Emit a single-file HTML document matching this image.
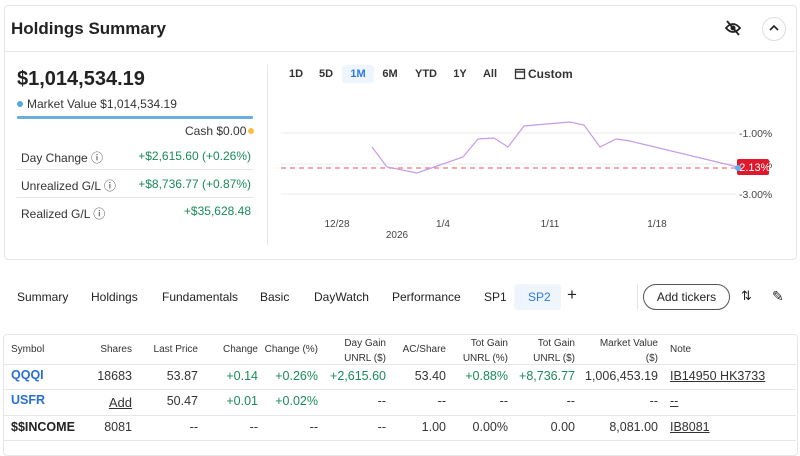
<!DOCTYPE html><html><head><style>
body{margin:0;width:800px;height:445px;background:#fff;font-family:"Liberation Sans",sans-serif;color:#222;position:relative;overflow:hidden}
.a{position:absolute;white-space:nowrap}
.r{text-align:right}
.card{position:absolute;left:4px;top:5px;width:791px;height:253px;border:1px solid #e6e6e6;border-radius:4px}
.tb{position:absolute;left:3px;top:334px;width:793px;height:120px;border:1px solid #e6e6e6;border-radius:4px}
.hl{position:absolute;height:1px;background:#e6e6e6}
.th{font-size:10px;color:#333}
.td{font-size:12.5px;color:#333}
.g{color:#1a8a5a}
.tbn{position:absolute;top:68px;font-size:11px;font-weight:bold;color:#333;transform:translateX(-50%)}
</style></head><body>
<div class="card"></div>
<div class="a" style="left:11px;top:19px;font-size:17px;font-weight:bold;color:#222">Holdings Summary</div>
<div class="hl" style="left:5px;top:51px;width:790px"></div>
<svg class="a" style="left:724px;top:20px" width="18" height="16"><path d="M2 8 Q9 0 16 8 Q9 16 2 8Z" fill="none" stroke="#222" stroke-width="1.8"/><circle cx="9" cy="8" r="2.5" fill="#222"/><line x1="3" y1="1" x2="15" y2="15" stroke="#222" stroke-width="1.8"/></svg>
<div class="a" style="left:762px;top:17px;width:22px;height:22px;border:1px solid #ddd;border-radius:50%"></div>
<svg class="a" style="left:768px;top:23px" width="12" height="10"><path d="M2 7 L6 3 L10 7" fill="none" stroke="#222" stroke-width="1.6"/></svg>
<div class="a" style="left:17px;top:68px;font-size:20px;font-weight:bold;color:#222">$1,014,534.19</div>
<div class="a" style="left:17px;top:101px;width:6px;height:6px;border-radius:50%;background:#58a6e0"></div>
<div class="a" style="left:27px;top:97px;font-size:12px;color:#333">Market Value $1,014,534.19</div>
<div class="a" style="left:17px;top:116px;width:236px;height:3px;background:#6aaee0;border-radius:1px"></div>
<div class="a" style="left:185px;top:124px;font-size:12px;color:#333">Cash $0.00</div>
<div class="a" style="left:248px;top:128px;width:6px;height:6px;border-radius:50%;background:#f5c04a"></div>
<div class="a" style="left:21px;top:149px;font-size:12px;color:#333">Day Change ⓘ</div>
<div class="a g" style="right:549px;top:149px;font-size:12px">+$2,615.60 (+0.26%)</div>
<div class="hl" style="left:17px;top:169px;width:237px"></div>
<div class="a" style="left:21px;top:177px;font-size:12px;color:#333">Unrealized G/L ⓘ</div>
<div class="a g" style="right:549px;top:177px;font-size:12px">+$8,736.77 (+0.87%)</div>
<div class="hl" style="left:17px;top:197px;width:237px"></div>
<div class="a" style="left:21px;top:205px;font-size:12px;color:#333">Realized G/L ⓘ</div>
<div class="a g" style="right:549px;top:204px;font-size:12px">+$35,628.48</div>
<div class="a" style="left:267px;top:65px;width:1px;height:180px;background:#e6e6e6"></div>
<div class="a" style="left:342px;top:65px;width:32px;height:18px;background:#eef5fd;border-radius:3px"></div>
<div class="tbn" style="left:296px">1D</div>
<div class="tbn" style="left:326px">5D</div>
<div class="tbn" style="left:358px;color:#2a7ae2">1M</div>
<div class="tbn" style="left:390px">6M</div>
<div class="tbn" style="left:426px">YTD</div>
<div class="tbn" style="left:460px">1Y</div>
<div class="tbn" style="left:490px">All</div>
<svg class="a" style="left:514px;top:67px" width="12" height="13"><rect x="1.5" y="2.5" width="9" height="9" fill="none" stroke="#333" stroke-width="1.3"/><line x1="1.5" y1="5" x2="10.5" y2="5" stroke="#333" stroke-width="1.5"/></svg>
<div class="a" style="left:528px;top:67px;font-size:12px;font-weight:bold;color:#333">Custom</div>
<svg class="a" style="left:0;top:0" width="800" height="260">
<line x1="281" y1="133" x2="736" y2="133" stroke="#ebebeb"/>
<line x1="281" y1="164" x2="736" y2="164" stroke="#ebebeb"/>
<line x1="281" y1="194" x2="736" y2="194" stroke="#ebebeb"/>
<line x1="281" y1="168" x2="736" y2="168" stroke="#e77" stroke-dasharray="5,4" stroke-width="1.2"/>
<polyline points="372,147 387,167 417,173 463,157 478,139 494,138 508,147 524,126 570,122 584,125 600,147 616,139 630,141 738,167" fill="none" stroke="#c49be8" stroke-width="1.2"/>
<g font-size="10.5" fill="#444" font-family="Liberation Sans"><text x="739" y="137">-1.00%</text><text x="739" y="168">-2.00%</text><text x="739" y="198">-3.00%</text></g>
<rect x="737" y="159" width="32" height="16" rx="2" fill="#e0182d"/>
<text x="753" y="171" font-size="11" fill="#fff" text-anchor="middle" font-family="Liberation Sans">-2.13%</text>
<circle cx="738" cy="168" r="3" fill="#5ab0f0"/>
<g font-size="10" fill="#444" font-family="Liberation Sans" text-anchor="middle"><text x="337" y="227">12/28</text><text x="443" y="227">1/4</text><text x="550" y="227">1/11</text><text x="657" y="227">1/18</text><text x="397" y="238">2026</text></g>
</svg>
<div class="a" style="left:514px;top:284px;width:47px;height:26px;background:#eef5fd;border-radius:3px"></div>
<div class="a" style="top:290px;left:17px;font-size:12px;color:#222">Summary</div>
<div class="a" style="top:290px;left:91px;font-size:12px;color:#222">Holdings</div>
<div class="a" style="top:290px;left:162px;font-size:12px;color:#222">Fundamentals</div>
<div class="a" style="top:290px;left:260px;font-size:12px;color:#222">Basic</div>
<div class="a" style="top:290px;left:314px;font-size:12px;color:#222">DayWatch</div>
<div class="a" style="top:290px;left:392px;font-size:12px;color:#222">Performance</div>
<div class="a" style="top:290px;left:484px;font-size:12px;color:#222">SP1</div>
<div class="a" style="top:290px;left:528px;font-size:12px;color:#2a7ae2">SP2</div>
<div class="a" style="top:285px;left:567px;font-size:17px;color:#222">+</div>
<div class="a" style="left:637px;top:284px;width:1px;height:26px;background:#e6e6e6"></div>
<div class="a" style="left:643px;top:284px;width:85px;height:24px;border:1px solid #555;border-radius:13px;font-size:12px;text-align:center;line-height:24px;color:#222">Add tickers</div>
<div class="a" style="left:741px;top:288px;font-size:13px;color:#222">⇅</div>
<div class="a" style="left:772px;top:288px;font-size:14px;color:#222">✎</div>
<div class="tb"></div>
<div class="a th" style="left:11px;top:344px">Symbol</div>
<div class="a th r" style="right:668px;top:344px">Shares</div>
<div class="a th r" style="right:602px;top:344px">Last Price</div>
<div class="a th r" style="right:542px;top:344px">Change</div>
<div class="a th r" style="right:482px;top:344px">Change (%)</div>
<div class="a th r" style="right:414px;top:336px;line-height:15px">Day Gain<br>UNRL ($)</div>
<div class="a th r" style="right:354px;top:344px">AC/Share</div>
<div class="a th r" style="right:292px;top:336px;line-height:15px">Tot Gain<br>UNRL (%)</div>
<div class="a th r" style="right:225px;top:336px;line-height:15px">Tot Gain<br>UNRL ($)</div>
<div class="a th r" style="right:142px;top:336px;line-height:15px">Market Value<br>($)</div>
<div class="a th" style="left:670px;top:344px">Note</div>
<div class="hl" style="left:4px;top:364px;width:792px"></div>
<div class="hl" style="left:4px;top:389px;width:792px"></div>
<div class="hl" style="left:4px;top:415px;width:792px"></div>
<div class="hl" style="left:4px;top:440px;width:792px"></div>
<div class="a td" style="left:11px;top:368px;color:#2a6fd6;font-weight:bold">QQQI</div>
<div class="a td r" style="right:668px;top:369px">18683</div>
<div class="a td r" style="right:602px;top:369px">53.87</div>
<div class="a td r g" style="right:542px;top:369px">+0.14</div>
<div class="a td r g" style="right:482px;top:369px">+0.26%</div>
<div class="a td r g" style="right:414px;top:369px">+2,615.60</div>
<div class="a td r" style="right:354px;top:369px">53.40</div>
<div class="a td r g" style="right:292px;top:369px">+0.88%</div>
<div class="a td r g" style="right:225px;top:369px">+8,736.77</div>
<div class="a td r" style="right:142px;top:369px">1,006,453.19</div>
<div class="a td" style="left:670px;top:369px;text-decoration:underline">IB14950 HK3733</div>
<div class="a td" style="left:11px;top:393px;color:#2a6fd6;font-weight:bold">USFR</div>
<div class="a td r" style="right:668px;top:395px;text-decoration:underline;font-size:13px">Add</div>
<div class="a td r" style="right:602px;top:394px">50.47</div>
<div class="a td r g" style="right:542px;top:394px">+0.01</div>
<div class="a td r g" style="right:482px;top:394px">+0.02%</div>
<div class="a td r" style="right:414px;top:394px">--</div>
<div class="a td r" style="right:354px;top:394px">--</div>
<div class="a td r" style="right:292px;top:394px">--</div>
<div class="a td r" style="right:225px;top:394px">--</div>
<div class="a td r" style="right:142px;top:394px">--</div>
<div class="a td" style="left:670px;top:394px;text-decoration:underline">--</div>
<div class="a td" style="left:11px;top:420px;font-weight:bold;color:#222">$$INCOME</div>
<div class="a td r" style="right:668px;top:420px">8081</div>
<div class="a td r" style="right:602px;top:420px">--</div>
<div class="a td r" style="right:542px;top:420px">--</div>
<div class="a td r" style="right:482px;top:420px">--</div>
<div class="a td r" style="right:414px;top:420px">--</div>
<div class="a td r" style="right:354px;top:420px">1.00</div>
<div class="a td r" style="right:292px;top:420px">0.00%</div>
<div class="a td r" style="right:225px;top:420px">0.00</div>
<div class="a td r" style="right:142px;top:420px">8,081.00</div>
<div class="a td" style="left:670px;top:420px;text-decoration:underline">IB8081</div>
</body></html>
